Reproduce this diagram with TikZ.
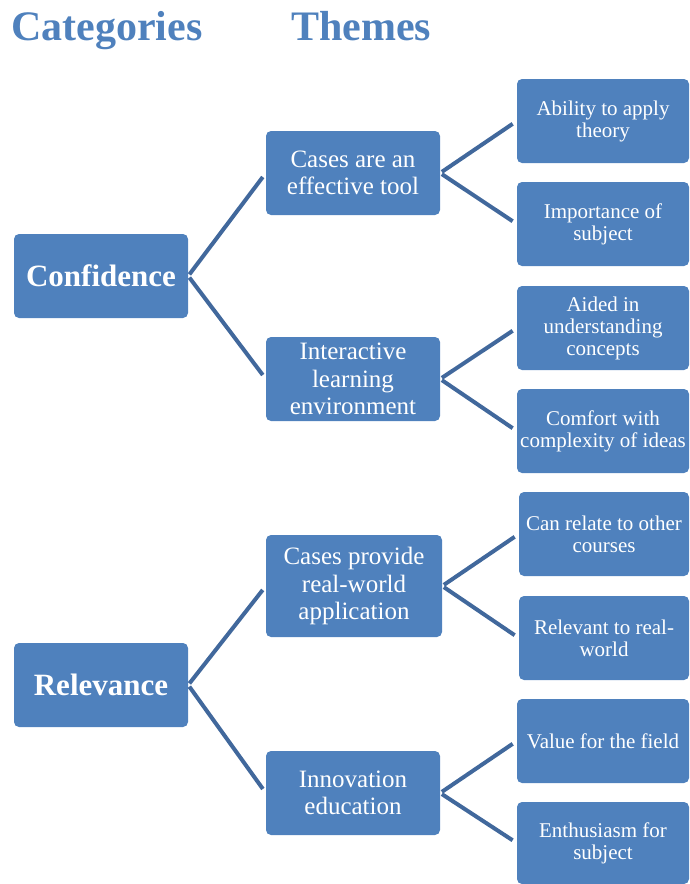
\documentclass[tikz,border=0pt]{standalone}
\usepackage{fontspec}
\setmainfont{Liberation Serif}
\definecolor{boxblue}{HTML}{4F81BD}
\definecolor{linkblue}{HTML}{41689C}
\definecolor{headblue}{HTML}{4F81BD}
\begin{document}
\begin{tikzpicture}[x=1pt,y=-1pt,
 box/.style={fill=boxblue, rounded corners=5pt, text=white, align=center, inner sep=0pt, anchor=center},
 cat/.style={box, minimum width=174pt, minimum height=84pt, font=\bfseries\fontsize{31}{34}\selectfont},
 theme/.style={box, minimum width=174pt, minimum height=84pt, font=\fontsize{25}{27.5}\selectfont},
 sub/.style={box, minimum width=172pt, minimum height=84pt, font=\fontsize{21}{22}\selectfont},
 head/.style={text=headblue, font=\bfseries\fontsize{42}{44}\selectfont, anchor=base west, inner sep=0pt},
 link/.style={draw=linkblue, line width=4pt, shorten <=2pt, shorten >=5pt}]
\useasboundingbox (0,0) rectangle (689,884);

\node[head] (hcat) at (11,40) {Categories};
\node[head] (hthm) at (291,40) {Themes};

\node[cat] (conf) at (101,276) {Confidence};
\node[cat] (rel) at (101,685) {Relevance};

\node[theme] (m1) at (353,173) {Cases are an\\effective tool};
\node[theme] (m2) at (353,379) {Interactive\\learning\\environment};
\node[theme, minimum width=176pt, minimum height=102pt] (m3) at (354,586) {Cases provide\\real-world\\application};
\node[theme] (m4) at (353,793) {Innovation\\education};

\node[sub] (s1) at (603,121) {Ability to apply\\theory};
\node[sub] (s2) at (603,224) {Importance of\\subject};
\node[sub] (s3) at (603,328) {Aided in\\understanding\\concepts};
\node[sub] (s4) at (603,431) {Comfort with\\complexity of ideas};
\node[sub, minimum width=170pt] (s5) at (604,534) {Can relate to other\\courses};
\node[sub, minimum width=170pt] (s6) at (604,638) {Relevant to real-\\world};
\node[sub] (s7) at (603,741) {Value for the field};
\node[sub, minimum height=82pt] (s8) at (603,843) {Enthusiasm for\\subject};

\draw[link] (conf.east) -- (m1.west);
\draw[link] (conf.east) -- (m2.west);
\draw[link] (rel.east) -- (m3.west);
\draw[link] (rel.east) -- (m4.west);
\draw[link] (m1.east) -- (s1.west);
\draw[link] (m1.east) -- (s2.west);
\draw[link] (m2.east) -- (s3.west);
\draw[link] (m2.east) -- (s4.west);
\draw[link] (m3.east) -- (s5.west);
\draw[link] (m3.east) -- (s6.west);
\draw[link] (m4.east) -- (s7.west);
\draw[link] (m4.east) -- (s8.west);
\end{tikzpicture}
\end{document}
